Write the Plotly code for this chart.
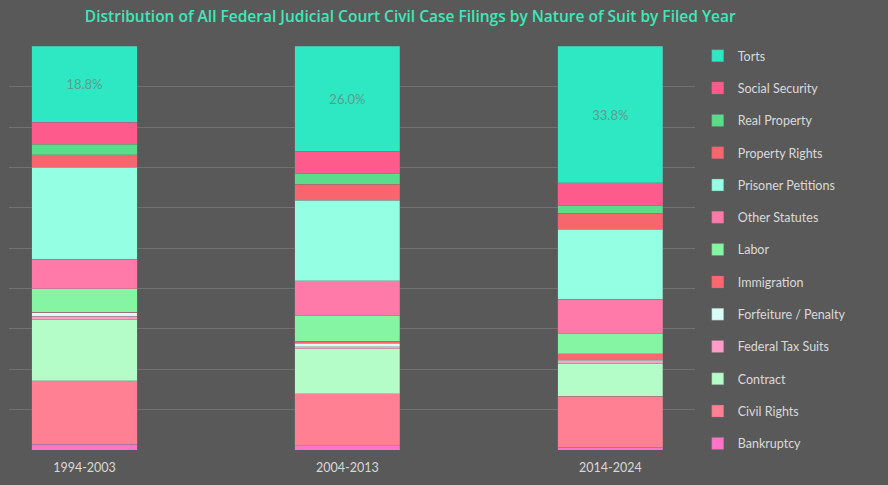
import plotly.graph_objects as go

periods = ["1994-2003", "2004-2013", "2014-2024"]

# stacking order: bottom -> top
categories = ["Bankruptcy", "Civil Rights", "Contract", "Federal Tax Suits",
              "Forfeiture / Penalty", "Immigration", "Labor", "Other Statutes",
              "Prisoner Petitions", "Property Rights", "Real Property",
              "Social Security", "Torts"]

bankruptcy = [1.4, 1.1, 0.7]
civil_rights = [15.8, 12.8, 12.6]
contract = [15.2, 11.2, 8.2]
federal_tax = [0.7, 0.5, 0.4]
forfeiture = [0.9, 0.8, 0.3]
immigration = [0.1, 0.6, 1.6]
labor = [5.9, 6.3, 5.1]
other_statutes = [7.3, 8.6, 8.5]
prisoner = [22.8, 20.0, 17.3]
property_rights = [3.1, 3.9, 4.0]
real_property = [2.5, 2.6, 1.8]
social_security = [5.5, 5.6, 5.7]
torts = [18.8, 26.0, 33.8]

series = [bankruptcy, civil_rights, contract, federal_tax, forfeiture,
          immigration, labor, other_statutes, prisoner, property_rights,
          real_property, social_security, torts]

colors = ["#FF73C8", "#FF8093", "#B5FDC8", "#FF9DC8", "#D8FFF6", "#FF6670",
          "#86F5A3", "#FF7AA8", "#94FFE2", "#F7656E", "#5BDC8A", "#FF5A8C",
          "#2EE8C3"]

n = len(categories)
fig = go.Figure()
for i, (name, vals, col) in enumerate(zip(categories, series, colors)):
    is_torts = name == "Torts"
    fig.add_trace(go.Bar(
        x=periods, y=vals, name=name, legendgroup=name, legendrank=n - i,
        marker=dict(color=col, line=dict(width=0.6, color="rgba(120,120,120,0.6)")),
        width=0.4,
        text=[f"{v:.1f}%" for v in vals] if is_torts else None,
        textposition="inside" if is_torts else "none",
        insidetextanchor="middle",
        textfont=dict(color="#5a9e90", size=13, family="Lato"),
        hovertemplate="%{x}<br>" + name + ": %{y:.1f}%<extra></extra>",
    ))

fig.update_layout(
    width=888, height=485,
    barmode="stack",
    paper_bgcolor="#595959", plot_bgcolor="#595959",
    margin=dict(l=9, r=193, t=46, b=35, autoexpand=False),
    font=dict(family="Lato", color="#dddddd", size=12),
    title=dict(text="Distribution of All Federal Judicial Court Civil Case Filings by Nature of Suit by Filed Year",
               x=0.462, xref="container", xanchor="center", y=0.965, yanchor="middle",
               font=dict(family="Open Sans", size=15.5, color="#3FE8B8", weight=600)),
    showlegend=True,
    legend=dict(x=1.004, xanchor="left", y=1.012, yanchor="top",
                traceorder="grouped", tracegroupgap=13.05,
                maxheight=480,
                font=dict(size=12.5, color="#d9d9d9", family="Lato"),
                bgcolor="rgba(0,0,0,0)"),
)
fig.update_xaxes(range=[-0.287, 2.322], showgrid=False, zeroline=False,
                 showline=False, ticks="", ticklabelstandoff=8,
                 tickfont=dict(size=12.5, color="#d8d8d8"))
fig.update_yaxes(range=[0, 100.1], dtick=10, showgrid=True, gridcolor="#717171",
                 gridwidth=1, zeroline=False, showticklabels=False, showline=False)

fig.write_html("out.html", config={"displayModeBar": False},
               post_script="document.body.style.margin='0px';")
